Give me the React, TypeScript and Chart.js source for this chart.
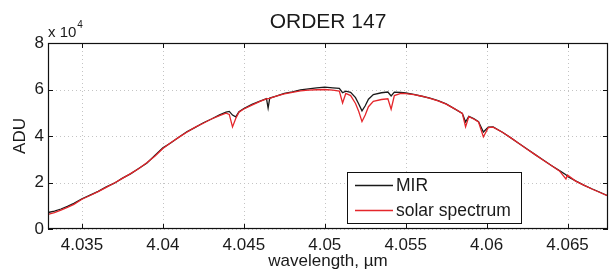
import React, { useEffect, useRef } from "react";
import { Chart, registerables } from "chart.js";
Chart.register(...registerables);

// ---- data ----
const titleText = "ORDER 147";
const xAxisLabel = "wavelength, µm";
const yAxisLabel = "ADU";
const seriesNames = ["MIR", "solar spectrum"];

const wavelength = [
  4.0329, 4.0333, 4.0337, 4.0341, 4.0345, 4.035, 4.0355, 4.036, 4.0365, 4.037,
  4.0375, 4.038, 4.0385, 4.039, 4.0395, 4.04, 4.0405, 4.041, 4.0415, 4.042,
  4.0425, 4.043, 4.0435, 4.0439, 4.0441, 4.0443, 4.0445, 4.0447, 4.045, 4.0455,
  4.046, 4.0464, 4.0465, 4.0466, 4.047, 4.0475, 4.048, 4.0485, 4.049, 4.0495,
  4.05, 4.0505, 4.0509, 4.0511, 4.0513, 4.0516, 4.0519, 4.0521, 4.0523, 4.0525,
  4.0527, 4.053, 4.0535, 4.0539, 4.0541, 4.0543, 4.0547, 4.055, 4.0555, 4.056,
  4.0565, 4.057, 4.0575, 4.058, 4.0585, 4.0587, 4.0589, 4.0592, 4.0595, 4.0598,
  4.0601, 4.0604, 4.061, 4.0615, 4.062, 4.0625, 4.063, 4.0635, 4.064, 4.0645,
  4.0649, 4.065, 4.0655, 4.066, 4.0665, 4.067, 4.0675,
];

const mirAdu = [
  7100, 7700, 8600, 9700, 11000, 13000, 14600, 16200, 18100, 19700,
  21900, 23700, 26000, 28300, 31600, 34900, 37100, 39600, 41900, 43700,
  45700, 47300, 49100, 50300, 50600, 49000, 48200, 50400, 51800, 53600,
  55000, 56100, 52000, 56300, 57200, 58300, 59000, 59800, 60300, 60700,
  61000, 60700, 60500, 58600, 59300, 58800, 56500, 53800, 50800, 53000,
  55800, 57800, 58600, 58900, 57200, 58900, 58800, 58500, 57900, 57100,
  56300, 55200, 53800, 51800, 49700, 46000, 48500, 47500, 46200, 41700,
  43800, 43900, 41500, 39200, 36800, 34400, 32000, 29700, 27300, 25100,
  23300, 22600, 20700, 18900, 17300, 15800, 14200,
];

const solarAdu = [
  6300, 7000, 8100, 9300, 10600, 12800, 14400, 16100, 17900, 19800,
  21800, 23800, 25900, 28500, 31300, 34600, 37200, 39500, 41700, 43800,
  45500, 47300, 48800, 49800, 49300, 43900, 47500, 50200, 51600, 53300,
  54900, 56000, 56100, 56200, 57100, 58100, 58800, 59400, 59700, 59900,
  60000, 59700, 59300, 54200, 58300, 57400, 54000, 50500, 46200, 49000,
  52600, 54900, 55700, 56000, 51500, 57400, 58300, 58200, 57800, 57100,
  56200, 55100, 53700, 51800, 49700, 43900, 48300, 47300, 46000, 39600,
  43600, 43800, 41500, 39200, 36800, 34300, 32000, 29600, 27300, 25000,
  21500, 23200, 20600, 18900, 17200, 15700, 14200,
];

const xTicks = [4.035, 4.04, 4.045, 4.05, 4.055, 4.06, 4.065];
const yTicks = [0, 20000, 40000, 60000, 80000];
const xMin = 4.0329;
const xMax = 4.0675;
const yMin = 0;
const yMax = 80000;
const yExponent = 4;

const FONT = "'Liberation Sans', Arial, Helvetica, sans-serif";
const TEXT = "#1a1a1a";
const MIR_COLOR = "#1a1a1a";
const SOLAR_COLOR = "#e4262b";

const decorPlugin = {
  id: "decor",
  beforeDatasetsDraw(chart: any) {
    const { ctx, chartArea: a, scales } = chart;
    const xs = scales.x;
    const ys = scales.y;
    ctx.save();
    ctx.strokeStyle = "#c4c4c4";
    ctx.lineWidth = 1;
    ctx.setLineDash([1, 3]);
    xTicks.forEach((v) => {
      const px = Math.round(xs.getPixelForValue(v)) + 0.5;
      ctx.beginPath();
      ctx.moveTo(px, a.top);
      ctx.lineTo(px, a.bottom);
      ctx.stroke();
    });
    yTicks.forEach((v) => {
      const py = Math.round(ys.getPixelForValue(v)) + 0.5;
      ctx.beginPath();
      ctx.moveTo(a.left, py);
      ctx.lineTo(a.right, py);
      ctx.stroke();
    });
    ctx.restore();
  },
  afterDraw(chart: any) {
    const { ctx, chartArea: a, scales } = chart;
    const xs = scales.x;
    const ys = scales.y;
    ctx.save();
    // box
    ctx.strokeStyle = "#111";
    ctx.lineWidth = 1.2;
    ctx.setLineDash([]);
    ctx.strokeRect(a.left + 0.5, a.top + 0.5, a.right - a.left - 1, a.bottom - a.top - 1);
    // inward ticks
    const tl = 5;
    ctx.lineWidth = 1;
    ctx.beginPath();
    xTicks.forEach((v) => {
      const px = Math.round(xs.getPixelForValue(v)) + 0.5;
      ctx.moveTo(px, a.bottom);
      ctx.lineTo(px, a.bottom - tl);
      ctx.moveTo(px, a.top);
      ctx.lineTo(px, a.top + tl);
    });
    yTicks.forEach((v) => {
      const py = Math.round(ys.getPixelForValue(v)) + 0.5;
      ctx.moveTo(a.left, py);
      ctx.lineTo(a.left + tl, py);
      ctx.moveTo(a.right, py);
      ctx.lineTo(a.right - tl, py);
    });
    ctx.stroke();

    // title
    ctx.fillStyle = TEXT;
    ctx.textAlign = "center";
    ctx.textBaseline = "alphabetic";
    ctx.font = `21px ${FONT}`;
    ctx.fillText(titleText, (a.left + a.right) / 2, 28);

    // x label
    ctx.font = `17px ${FONT}`;
    ctx.fillText(xAxisLabel, (a.left + a.right) / 2, 266);

    // y label
    ctx.save();
    ctx.translate(25, (a.top + a.bottom) / 2);
    ctx.rotate(-Math.PI / 2);
    ctx.textAlign = "center";
    ctx.textBaseline = "alphabetic";
    ctx.fillText(yAxisLabel, 0, 0);
    ctx.restore();

    // exponent
    ctx.textAlign = "left";
    ctx.font = `15px ${FONT}`;
    const base = "x 10";
    ctx.fillText(base, a.left, 37);
    const w = ctx.measureText(base).width;
    ctx.font = `10px ${FONT}`;
    ctx.fillText(String(yExponent), a.left + w + 1, 28);

    // legend
    const lx = 347, ly = 172, lw = 174, lh = 51;
    ctx.fillStyle = "#fff";
    ctx.fillRect(lx, ly, lw, lh);
    ctx.strokeStyle = "#111";
    ctx.lineWidth = 1;
    ctx.strokeRect(lx + 0.5, ly + 0.5, lw, lh);
    const colors = [MIR_COLOR, SOLAR_COLOR];
    const rows = [185.5, 210.5];
    ctx.font = `17.5px ${FONT}`;
    ctx.textBaseline = "middle";
    seriesNames.forEach((name, i) => {
      ctx.strokeStyle = colors[i];
      ctx.lineWidth = 1.3;
      ctx.beginPath();
      ctx.moveTo(355, rows[i]);
      ctx.lineTo(393, rows[i]);
      ctx.stroke();
      ctx.fillStyle = TEXT;
      ctx.fillText(name, 396, rows[i] + 1);
    });
    ctx.restore();
  },
};

export default function App() {
  const ref = useRef<HTMLCanvasElement | null>(null);
  useEffect(() => {
    if (!ref.current) return;
    const chart = new Chart(ref.current, {
      type: "line",
      data: {
        datasets: [
          {
            label: seriesNames[0],
            data: wavelength.map((x, i) => ({ x, y: mirAdu[i] })),
            borderColor: MIR_COLOR,
            borderWidth: 1.3,
            pointRadius: 0,
            tension: 0,
            order: 1,
          },
          {
            label: seriesNames[1],
            data: wavelength.map((x, i) => ({ x, y: solarAdu[i] })),
            borderColor: SOLAR_COLOR,
            borderWidth: 1.3,
            pointRadius: 0,
            tension: 0,
            order: 0,
          },
        ],
      },
      options: {
        responsive: false,
        animation: false,
        events: [],
        layout: { padding: { top: 43, right: 2, left: 0, bottom: 0 } },
        plugins: { legend: { display: false }, tooltip: { enabled: false }, title: { display: false } },
        scales: {
          x: {
            type: "linear",
            min: xMin,
            max: xMax,
            afterBuildTicks: (s: any) => {
              s.ticks = xTicks.map((v) => ({ value: v }));
            },
            afterFit: (s: any) => {
              s.height = 44;
            },
            grid: { display: false, drawTicks: false },
            border: { display: false },
            ticks: {
              autoSkip: false,
              maxRotation: 0,
              padding: 6,
              color: TEXT,
              font: { family: FONT, size: 17 },
              callback: (v: any) => String(Number(Number(v).toFixed(4))),
            },
          },
          y: {
            type: "linear",
            min: yMin,
            max: yMax,
            afterBuildTicks: (s: any) => {
              s.ticks = yTicks.map((v) => ({ value: v }));
            },
            afterFit: (s: any) => {
              s.width = 48;
            },
            grid: { display: false, drawTicks: false },
            border: { display: false },
            ticks: {
              padding: 4,
              color: TEXT,
              font: { family: FONT, size: 17 },
              callback: (v: any) => String(Number(v) / Math.pow(10, yExponent)),
            },
          },
        },
      },
      plugins: [decorPlugin],
    } as any);
    return () => chart.destroy();
  }, []);
  return (
    <div style={{ position: "absolute", left: 0, top: 0, width: 610, height: 273, background: "#fff" }}>
      <canvas ref={ref} width={610} height={273} style={{ display: "block" }} />
    </div>
  );
}
